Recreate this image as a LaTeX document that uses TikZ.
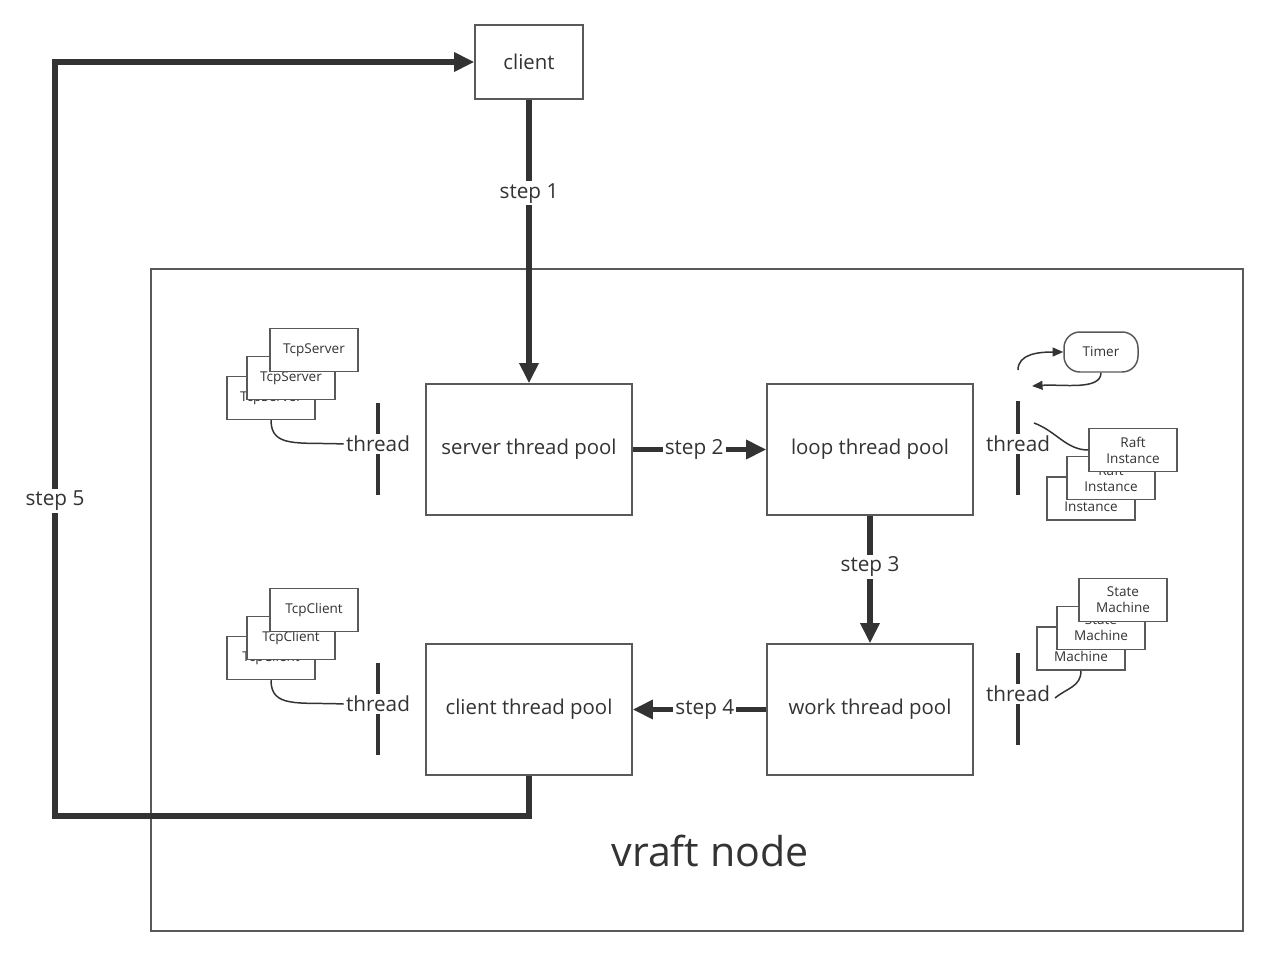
\documentclass[tikz,border=0pt]{standalone}
\usepackage{fontspec}
\setmainfont{Open Sans}
\usetikzlibrary{arrows.meta}

\definecolor{edgegray}{HTML}{595959}
\definecolor{flowgray}{HTML}{333333}

\begin{document}
\begin{tikzpicture}[x=0.02cm, y=-0.02cm,
    pool/.style={draw=edgegray, line width=0.85pt, fill=white, text=flowgray,
        minimum width=4.12cm, minimum height=2.62cm, font=\fontsize{11.6}{13}\selectfont},
    smallbox/.style={draw=edgegray, line width=0.85pt, fill=white, text=flowgray,
        minimum width=1.76cm, minimum height=0.86cm, align=center, inner sep=1pt,
        font=\fontsize{7.7}{9}\selectfont},
    flow/.style={draw=flowgray, line width=2.9pt, -{Triangle[length=11.5pt, width=10.5pt]}},
    steplabel/.style={fill=white, text=flowgray, inner sep=1.2pt, font=\fontsize{11.8}{13}\selectfont},
    threadbar/.style={draw=flowgray, line width=2.3pt},
    threadlabel/.style={fill=white, text=flowgray, inner sep=1.2pt, font=\fontsize{11.8}{13}\selectfont},
    link/.style={draw=flowgray, line width=0.85pt}]

    % Fix the page to the size of the reference
    \useasboundingbox (0,0) rectangle (1268,957);

    % Outer frame of the vraft node
    \draw[edgegray, line width=0.85pt] (151,269) rectangle (1243,931);
    \node[text=flowgray, font=\fontsize{23.4}{26}\selectfont] (vraft) at (710,851) {vraft node};

    % Client on top
    \node[pool, minimum width=2.16cm, minimum height=1.48cm] (client) at (529,62) {client};

    % The four thread pools
    \node[pool] (stp) at (529,449.5) {server thread pool};
    \node[pool] (ltp) at (870,449.5) {loop thread pool};
    \node[pool] (ctp) at (529,709.5) {client thread pool};
    \node[pool] (wtp) at (870,709.5) {work thread pool};

    % Request path, step 1 to step 5
    \draw[flow] (client.south) -- node[steplabel, pos=0.33] (s1) {step 1} (stp.north);
    \draw[flow] (stp.east) -- node[steplabel, pos=0.46] (s2) {step 2} (ltp.west);
    \draw[flow] (ltp.south) -- node[steplabel, pos=0.4] (s3) {step 3} (wtp.north);
    \draw[flow] (wtp.west) -- node[steplabel, pos=0.46] (s4) {step 4} (ctp.east);

    \coordinate (s5a) at (55,816);
    \coordinate (s5b) at (55,62);
    \draw[flow] (ctp.south) |- (s5a) -- node[steplabel, pos=0.418] (s5) {step 5} (s5b) -- (client.west);

    % Thread marks beside each pool
    \draw[threadbar] (378,403) -- (378,495);
    \node[threadlabel] (thS) at (378,444) {thread};
    \draw[threadbar] (378,663) -- (378,755);
    \node[threadlabel] (thC) at (378,704) {thread};
    \draw[threadbar] (1018,401) -- (1018,495);
    \node[threadlabel] (thL) at (1018,444) {thread};
    \draw[threadbar] (1018,653) -- (1018,745);
    \node[threadlabel] (thW) at (1018,694) {thread};

    % Stack of TcpServer objects
    \node[smallbox] (tsA) at (271,398) {TcpServer};
    \node[smallbox] (tsB) at (291,378) {TcpServer};
    \node[smallbox] (tsC) at (314,350) {TcpServer};
    \draw[link] (tsA.south) .. controls +(0,28) and +(-45,-2) .. (thS.west);

    % Stack of TcpClient objects
    \node[smallbox] (tcA) at (271,658) {TcpClient};
    \node[smallbox] (tcB) at (291,638) {TcpClient};
    \node[smallbox] (tcC) at (314,610) {TcpClient};
    \draw[link] (tcA.south) .. controls +(0,28) and +(-45,-2) .. (thC.west);

    % Stack of Raft instances
    \node[smallbox] (rfA) at (1091,498.5) {Raft\\Instance};
    \node[smallbox] (rfB) at (1111,478) {Raft\\Instance};
    \node[smallbox] (rfC) at (1133,450) {Raft\\Instance};
    \coordinate (rfEnd) at (1034,423);
    \draw[link] (rfEnd) .. controls +(22,8) and +(-22,0) .. (rfC.west);

    % Timer and its loop
    \node[smallbox, minimum width=1.48cm, minimum height=0.8cm, rounded corners=9pt] (timer) at (1101,352) {Timer};
    \coordinate (tmA) at (1018,370);
    \coordinate (tmB) at (1032,386);
    \draw[link, -{Triangle[length=6pt, width=5pt]}] (tmA) .. controls +(0,-16) and +(-25,0) .. (timer.west);
    \draw[link, -{Triangle[length=6pt, width=5pt]}] (timer.south) .. controls +(0,18) and +(30,-2) .. (tmB);

    % Stack of state machines
    \node[smallbox] (smA) at (1081,648.5) {State\\Machine};
    \node[smallbox] (smB) at (1101,628) {State\\Machine};
    \node[smallbox] (smC) at (1123,600) {State\\Machine};
    \coordinate (smEnd) at (1055,698);
    \draw[link] (smA.south) .. controls +(0,16) and +(12,-10) .. (smEnd);

\end{tikzpicture}
\end{document}
